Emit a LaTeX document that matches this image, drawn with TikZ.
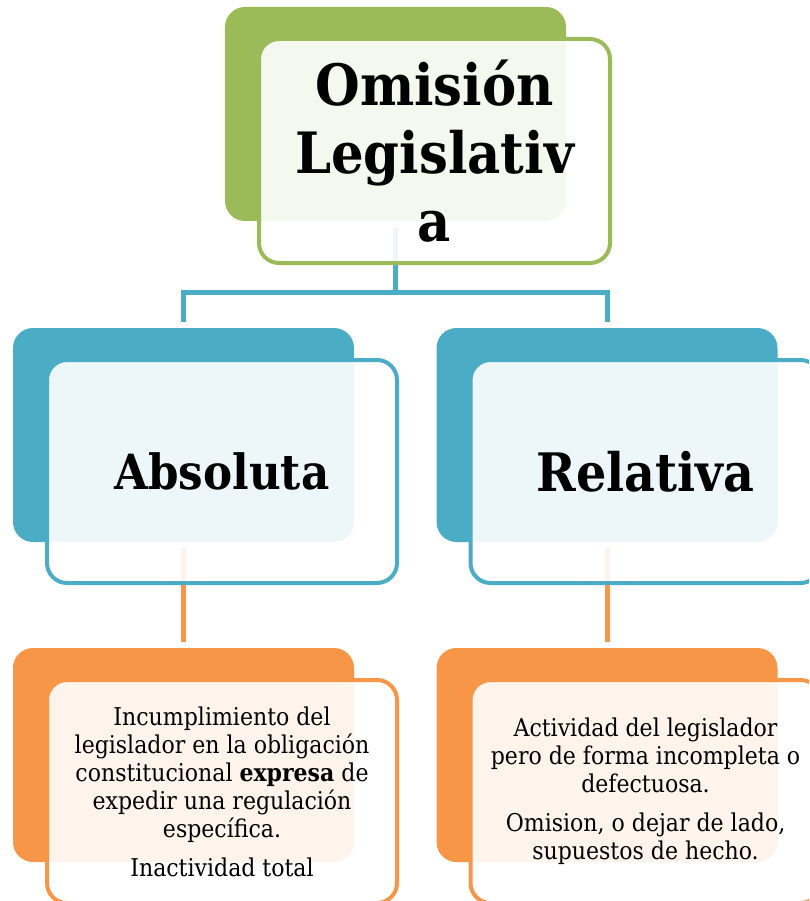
\documentclass[tikz,border=0pt]{standalone}
\usepackage{fontspec}
\setmainfont{DejaVu Serif Condensed}
\definecolor{gr}{HTML}{9BBB59}
\definecolor{bl}{HTML}{4BACC6}
\definecolor{orng}{HTML}{F79646}
\begin{document}
\begin{tikzpicture}[x=1pt,y=-1pt,
 backbox/.style={rounded corners=20pt, minimum width=341pt, minimum height=214pt, inner sep=0pt, draw=none},
 frontbox/.style={rounded corners=20pt, minimum width=350pt, minimum height=223pt, inner sep=0pt, fill=white, fill opacity=0.9, text opacity=1, line width=4pt, align=center},
 conn/.style={line width=5pt},
 titlefont/.style={font=\fontsize{57}{68}\selectfont\bfseries},
 midfont/.style={font=\fontsize{48.5}{56}\selectfont\bfseries},
 midfontb/.style={font=\fontsize{53}{60}\selectfont\bfseries},
 smallfont/.style={font=\fontsize{24.5}{28}\selectfont}]
\useasboundingbox (0,0) rectangle (809,901);
\clip (0,0) rectangle (809,901);
% back boxes
\node[backbox, fill=gr] (gb) at (395.5,114) {};
\node[backbox, fill=bl] (lb) at (183.5,435) {};
\node[backbox, fill=bl] (rb) at (607,435) {};
\node[backbox, fill=orng] (lob) at (183.5,755) {};
\node[backbox, fill=orng] (rob) at (607,755) {};
% connectors
\coordinate (j) at (395.5,292);
\draw[conn, bl] ([yshift=-7pt]gb.south) -- (j);
\draw[conn, bl] (j) -| ([yshift=6pt]lb.north);
\draw[conn, bl] (j) -| ([yshift=6pt]rb.north);
\draw[conn, orng] ([yshift=-6pt]lb.south) -- ([yshift=6pt]lob.north);
\draw[conn, orng] ([yshift=-6pt]rb.south) -- ([yshift=6pt]rob.north);
% front boxes
\node[frontbox, draw=gr, minimum width=351pt, minimum height=224pt, titlefont] (gf) at (434.5,151) {Omisión\\Legislativ\\a};
\node[frontbox, draw=bl, midfont] (lf) at (222,471.5) {Absoluta};
\node[frontbox, draw=bl, midfontb] (rf) at (645.5,471.5) {Relativa};
\node[frontbox, draw=orng, smallfont] (lof) at (222,791.5) {Incumplimiento del\\legislador en la obligación\\constitucional \textbf{expresa} de\\expedir una regulación\\específica.\\[11pt]Inactividad total};
\node[frontbox, draw=orng, smallfont] (rof) at (645.5,791.5) {Actividad del legislador\\pero de forma incompleta o\\defectuosa.\\[11pt]Omision, o dejar de lado,\\supuestos de hecho.};
\end{tikzpicture}
\end{document}
